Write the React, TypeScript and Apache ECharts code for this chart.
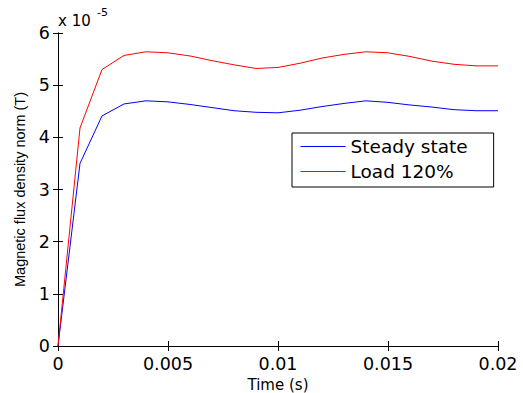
import React, { useEffect, useRef } from "react";
import * as echarts from "echarts";

// Time (s)
const TIME = [
  0, 0.001, 0.002, 0.003, 0.004, 0.005, 0.006, 0.007, 0.008, 0.009, 0.01,
  0.011, 0.012, 0.013, 0.014, 0.015, 0.016, 0.017, 0.018, 0.019, 0.02,
];
// Magnetic flux density norm, in units of 1e-5 T
const STEADY_STATE = [
  0, 3.5, 4.41, 4.64, 4.7, 4.68, 4.63, 4.57, 4.51, 4.48, 4.47,
  4.52, 4.59, 4.65, 4.7, 4.67, 4.62, 4.58, 4.53, 4.51, 4.51,
];
const LOAD_120 = [
  0, 4.18, 5.3, 5.57, 5.64, 5.62, 5.56, 5.47, 5.39, 5.32, 5.34,
  5.42, 5.52, 5.59, 5.64, 5.62, 5.55, 5.46, 5.4, 5.37, 5.37,
];
const SERIES_NAMES = ["Steady state", "Load 120%"];
const X_TICKS = [0, 0.005, 0.01, 0.015, 0.02];
const Y_TICKS = [0, 1, 2, 3, 4, 5, 6];

const FONT = "DejaVu Sans";

export default function App() {
  const ref = useRef<HTMLDivElement>(null);
  useEffect(() => {
    if (!ref.current) return;
    const chart = echarts.init(ref.current, undefined, { renderer: "svg" });
    const axisLine = { show: true, lineStyle: { color: "#000", width: 1 } };
    const tick = { show: true, inside: true, length: 5, lineStyle: { color: "#000", width: 1 } };
    const xMin = X_TICKS[0];
    const xMax = X_TICKS[X_TICKS.length - 1];
    const xInt = X_TICKS[1] - X_TICKS[0];
    const yMin = Y_TICKS[0];
    const yMax = Y_TICKS[Y_TICKS.length - 1];
    const yInt = Y_TICKS[1] - Y_TICKS[0];
    chart.setOption({
      animation: false,
      backgroundColor: "#fff",
      grid: {
        left: 58,
        top: 33,
        right: 25,
        bottom: 47,
        containLabel: false,
        outerBoundsMode: "none",
      },
      xAxis: [
        {
          type: "value",
          min: xMin,
          max: xMax,
          interval: xInt,
          position: "bottom",
          axisLine,
          axisTick: tick,
          splitLine: { show: false },
          axisLabel: {
            color: "#000",
            fontFamily: FONT,
            fontSize: 17.5,
            margin: 9,
            formatter: (v: number) => String(parseFloat(v.toFixed(4))),
          },
          name: "Time (s)",
          nameLocation: "middle",
          nameGap: 21,
          nameTextStyle: { color: "#000", fontFamily: FONT, fontSize: 15 },
        },
        {
          type: "value",
          min: xMin,
          max: xMax,
          interval: xInt,
          position: "top",
          axisLine,
          axisTick: tick,
          splitLine: { show: false },
          axisLabel: { show: false },
        },
      ],
      yAxis: [
        {
          type: "value",
          min: yMin,
          max: yMax,
          interval: yInt,
          position: "left",
          axisLine,
          axisTick: tick,
          splitLine: { show: false },
          axisLabel: { color: "#000", fontFamily: FONT, fontSize: 17.5, margin: 8 },
          name: "Magnetic flux density norm (T)",
          nameLocation: "middle",
          nameGap: 30,
          nameTextStyle: { color: "#000", fontFamily: "Liberation Sans", fontSize: 14.5 },
        },
        {
          type: "value",
          min: yMin,
          max: yMax,
          interval: yInt,
          position: "right",
          axisLine,
          axisTick: tick,
          splitLine: { show: false },
          axisLabel: { show: false },
        },
      ],
      legend: {
        left: 292,
        top: 133,
        orient: "vertical",
        data: SERIES_NAMES,
        backgroundColor: "#fff",
        borderColor: "#000",
        borderWidth: 1,
        borderRadius: 0,
        padding: [4, 26, 6, 8],
        itemWidth: 45,
        itemHeight: 14,
        itemGap: 6,
        itemStyle: { opacity: 0 },
        lineStyle: { width: 1 },
        textStyle: { color: "#000", fontFamily: FONT, fontSize: 18.5 },
      },
      graphic: [
        {
          type: "text",
          x: 58,
          y: 13,
          style: { text: "x 10", fontFamily: FONT, fontSize: 15, fill: "#000", verticalAlign: "top" },
        },
        {
          type: "text",
          x: 97,
          y: 7,
          style: { text: "-5", fontFamily: FONT, fontSize: 11, fill: "#000", verticalAlign: "top" },
        },
      ],
      series: [
        {
          name: SERIES_NAMES[0],
          type: "line",
          symbol: "none",
          data: TIME.map((t, i) => [t, STEADY_STATE[i]]),
          lineStyle: { color: "#0000ff", width: 1 },
          itemStyle: { color: "#0000ff" },
        },
        {
          name: SERIES_NAMES[1],
          type: "line",
          symbol: "none",
          data: TIME.map((t, i) => [t, LOAD_120[i]]),
          lineStyle: { color: "#ff0000", width: 1 },
          itemStyle: { color: "#ff0000" },
        },
      ],
    });
    return () => chart.dispose();
  }, []);
  return (
    <div
      ref={ref}
      style={{ position: "fixed", left: 0, top: 0, width: 523, height: 393, background: "#fff" }}
    />
  );
}
